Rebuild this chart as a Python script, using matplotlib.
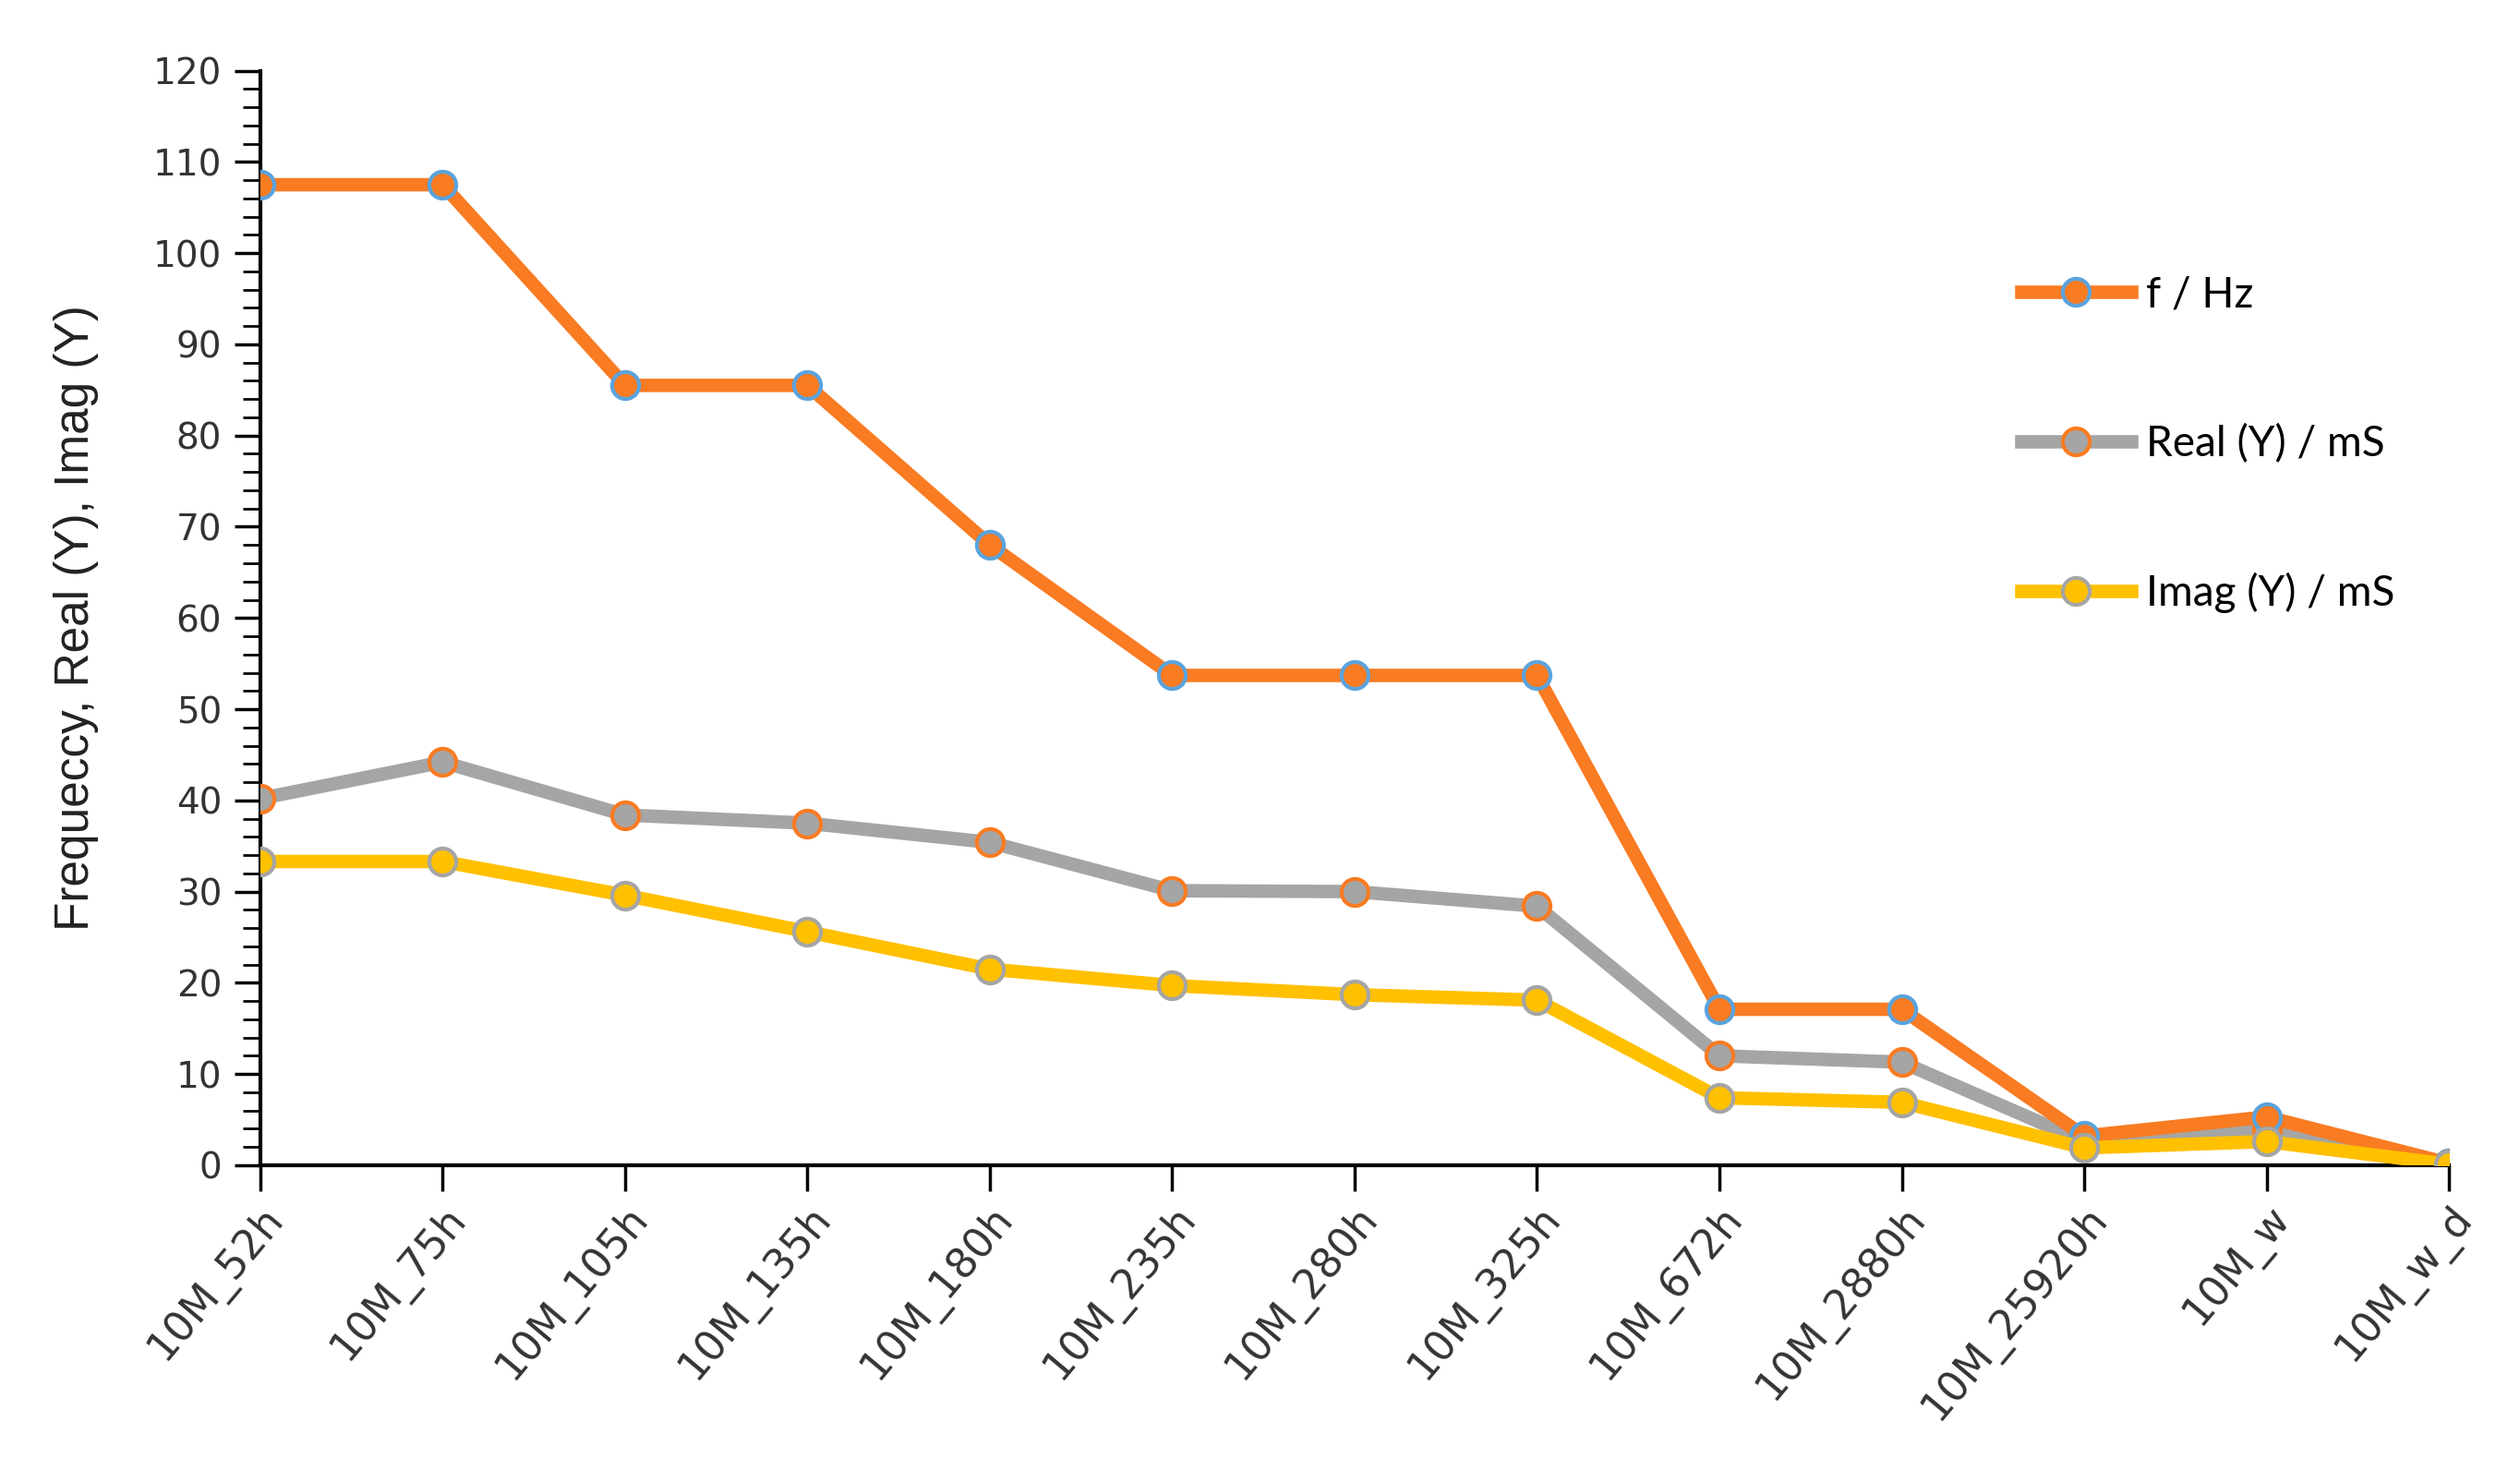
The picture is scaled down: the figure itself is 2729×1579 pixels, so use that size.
import numpy as np
import matplotlib.pyplot as plt
from matplotlib.ticker import MultipleLocator

# 样品名称
samples = ['10M_52h', '10M_75h', '10M_105h', '10M_135h', '10M_180h', '10M_235h',
           '10M_280h', '10M_325h', '10M_672h', '10M_2880h', '10M_25920h', '10M_w', '10M_w_d']

# 读图估计的数据
freq_hz = [107.5, 107.5, 85.5, 85.5, 68.0, 53.7, 53.7, 53.7, 17.1, 17.1, 3.2, 5.3, 0.2]
real_ms = [40.2, 44.2, 38.4, 37.5, 35.4, 30.1, 30.0, 28.4, 12.0, 11.3, 2.6, 3.9, 0.2]
imag_ms = [33.3, 33.3, 29.6, 25.6, 21.5, 19.7, 18.7, 18.1, 7.4, 6.9, 1.9, 2.6, 0.1]

orange = '#F97B22'
gray = '#A5A5A5'
gold = '#FFC000'
blue = '#5BA3DC'

fig = plt.figure(figsize=(27.29, 15.79), dpi=100)
ax = fig.add_axes([0.1033, 0.2008, 0.8685, 0.7507])

x = np.arange(len(samples))
ax.plot(x, freq_hz, color=orange, lw=10.5, marker='o', ms=21, mfc=orange, mec=blue, mew=3,
        label='f / Hz', zorder=3)
ax.plot(x, real_ms, color=gray, lw=10.5, marker='o', ms=21, mfc=gray, mec=orange, mew=3,
        label='Real (Y) / mS', zorder=2)
ax.plot(x, imag_ms, color=gold, lw=10.5, marker='o', ms=21, mfc=gold, mec=gray, mew=3,
        label='Imag (Y) / mS', zorder=4)

ax.set_xlim(0, len(samples) - 1)
ax.set_ylim(0, 120)
ax.yaxis.set_major_locator(MultipleLocator(10))
ax.yaxis.set_minor_locator(MultipleLocator(2))

for s in ['top', 'right']:
    ax.spines[s].set_visible(False)
for s in ['left', 'bottom']:
    ax.spines[s].set_linewidth(3)
    ax.spines[s].set_color('black')
    ax.spines[s].set_zorder(1)

ax.set_xticks(x)
ax.set_xticklabels(samples, rotation=50, ha='right', rotation_mode='anchor',
                   fontsize=32, color='#333333', family='DejaVu Sans')
ax.tick_params(axis='x', length=20, width=2.5, pad=6)
ax.tick_params(axis='y', which='major', length=20, width=2.5, labelsize=28,
               labelcolor='#333333', pad=10)
ax.tick_params(axis='y', which='minor', length=14, width=2)
for lab in ax.get_yticklabels():
    lab.set_family('DejaVu Sans')

ax.set_ylabel('Frequeccy, Real (Y), Imag (Y)', fontsize=37, family='Liberation Sans',
              color='#222222', labelpad=42)

fig.legend(loc='upper left', bbox_to_anchor=(0.802, 0.811), frameon=False,
           prop={'family': 'Lato', 'size': 33}, labelspacing=2.58, handlelength=2.6,
           handletextpad=0.35, borderpad=0, borderaxespad=0)

fig.savefig('out.png', dpi=100)
